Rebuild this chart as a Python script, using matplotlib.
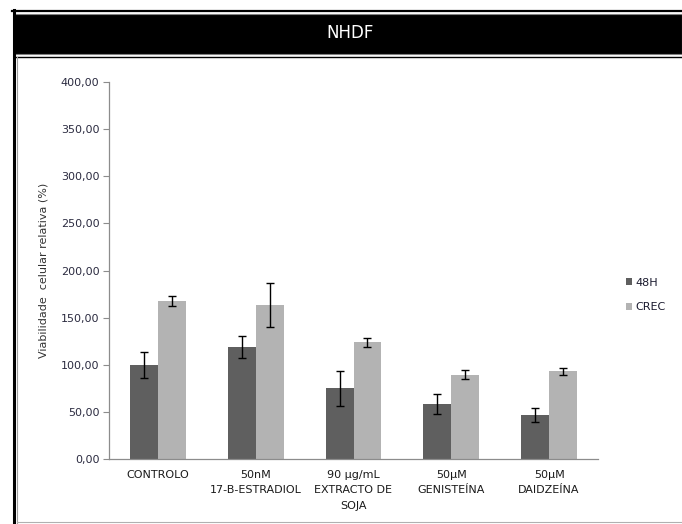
import matplotlib
matplotlib.use("Agg")
import matplotlib.pyplot as plt
from matplotlib.patches import Rectangle
from matplotlib.lines import Line2D
import numpy as np

categories = ["CONTROLO", "50nM\n17-B-ESTRADIOL", "90 µg/mL\nEXTRACTO DE\nSOJA",
              "50µM\nGENISTEÍNA", "50µM\nDAIDZEÍNA"]
series_names = ["48H", "CREC"]
values_48h = [100.0, 119.0, 75.0, 58.5, 46.5]
errors_48h = [14.0, 12.0, 18.5, 10.5, 7.7]
values_crec = [168.0, 163.5, 124.0, 89.5, 93.0]
errors_crec = [5.3, 23.0, 4.8, 5.0, 4.0]
yticks = [0, 50, 100, 150, 200, 250, 300, 350, 400]

W, H = 682, 524
fig = plt.figure(figsize=(W / 100, H / 100), dpi=100)
fig.patch.set_facecolor("white")


def px_rect(x0, y0, x1, y1, **kw):
    # rectangle given in pixel coords measured from the top-left corner
    return Rectangle((x0 / W, 1 - y1 / H), (x1 - x0) / W, (y1 - y0) / H,
                     transform=fig.transFigure, figure=fig, **kw)


def px_line(xs, ys, **kw):
    return Line2D([x / W for x in xs], [1 - y / H for y in ys],
                  transform=fig.transFigure, figure=fig, **kw)


# frame and header band
fig.add_artist(px_line([12, 682], [11, 11], color="black", lw=1.6))
fig.add_artist(px_line([14, 14], [10, 524], color="black", lw=2.2))
fig.add_artist(px_rect(14, 14, 682, 53.5, facecolor="black",
                       edgecolor="#808080", lw=0.8))
fig.add_artist(px_line([14, 682], [57, 57], color="black", lw=1.0))
fig.add_artist(px_line([17, 17], [57, 524], color="#a0a0a0", lw=0.8))
fig.add_artist(px_line([17, 682], [522, 522], color="#b0b0b0", lw=0.8))
fig.text(350 / W, 1 - 33.5 / H, "NHDF", color="white", fontsize=12,
         ha="center", va="center")

# bar chart
ax = fig.add_axes([109 / W, 1 - 459 / H, (598 - 109) / W, (459 - 82) / H])
x = np.arange(len(categories))
bw = 0.286
dark = "#5f5f5f"
light = "#b3b3b3"
ekw = dict(ecolor="black", elinewidth=1.0, capsize=3.2, capthick=1.0)
ax.bar(x - bw / 2, values_48h, bw, color=dark, yerr=errors_48h,
       error_kw=ekw, label=series_names[0], zorder=2)
ax.bar(x + bw / 2, values_crec, bw, color=light, yerr=errors_crec,
       error_kw=ekw, label=series_names[1], zorder=2)

ax.set_xlim(-0.5, len(categories) - 0.5)
ax.set_ylim(0, 400)
ax.set_yticks(yticks)
ax.set_yticklabels([f"{v:.2f}".replace(".", ",") for v in yticks])
ax.set_xticks(x)
ax.set_xticklabels(categories, linespacing=1.65)
ax.tick_params(axis="y", length=4, width=0.8, color="#8c8c8c", pad=3,
               labelsize=8, labelcolor="#2b2b40")
ax.tick_params(axis="x", length=0, pad=8, labelsize=8, labelcolor="#1a1a1a")
for side in ("top", "right"):
    ax.spines[side].set_visible(False)
for side in ("left", "bottom"):
    ax.spines[side].set_color("#8c8c8c")
    ax.spines[side].set_linewidth(0.9)
ax.set_ylabel("Viabilidade  celular relativa (%)", fontsize=8,
              color="#333333", labelpad=9)

leg = ax.legend(loc="upper left", bbox_to_anchor=(620 / W, 1 - 272 / H),
                bbox_transform=fig.transFigure, frameon=False,
                fontsize=8, handlelength=0.6, handleheight=0.6,
                handletextpad=0.3, labelspacing=1.3, borderpad=0)
for t in leg.get_texts():
    t.set_color("#1a1a2e")

fig.savefig("out.png", dpi=100)
